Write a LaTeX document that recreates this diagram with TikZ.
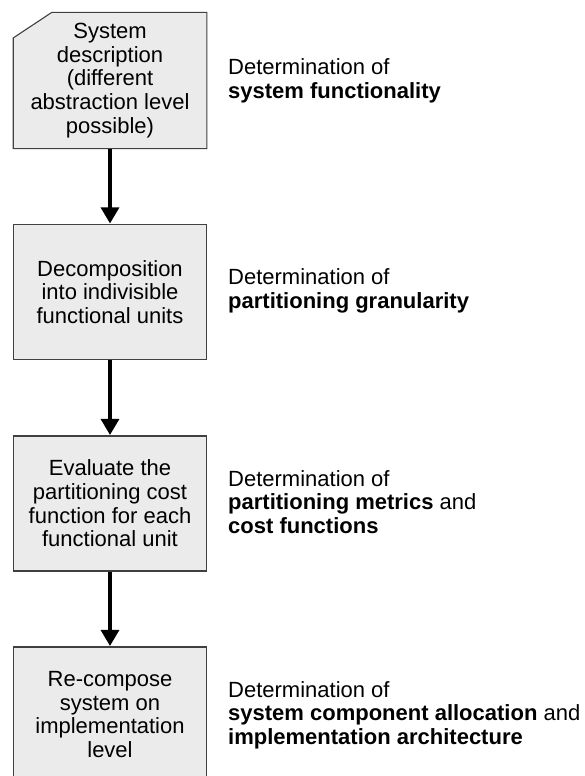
\documentclass[tikz,border=0pt]{standalone}
\usepackage{fontspec}
\setmainfont{Liberation Sans}
\usetikzlibrary{arrows.meta,calc,backgrounds}
\definecolor{boxfill}{HTML}{EBEBEB}
\definecolor{boxline}{HTML}{404040}
\tikzset{
  stepbox/.style={draw=boxline, fill=boxfill, line width=1.1pt,
    minimum width=192.5pt, minimum height=135pt, inner sep=0pt,
    align=center, font=\fontsize{22}{23.6}\selectfont},
  plainbox/.style={stepbox, draw=none, fill=none},
  sidelabel/.style={anchor=west, align=left, inner sep=0pt,
    font=\fontsize{22}{23.6}\selectfont},
  flowarrow/.style={line width=3.2pt, -{Triangle[width=18pt,length=16pt]}, shorten >=0.5pt}
}
\begin{document}
\begin{tikzpicture}[x=1pt,y=-1pt]
\useasboundingbox (0,0) rectangle (585,776);
\node[plainbox] (b1) at (110,80.5) {System\\description\\(different\\abstraction level\\possible)};
\begin{scope}[on background layer]
\draw[boxline, fill=boxfill, line width=1.1pt]
  ($(b1.north west)+(0,25.5)$) -- ($(b1.north west)+(38.5,0)$) -- (b1.north east)
  -- (b1.south east) -- (b1.south west) -- cycle;
\end{scope}
\node[stepbox] (b2) at (110,292) {Decomposition\\into indivisible\\functional units};
\node[stepbox] (b3) at (110,503.5) {Evaluate the\\partitioning cost\\function for each\\functional unit};
\node[stepbox] (b4) at (110,714.5) {Re-compose\\system on\\implementation\\level};
\draw[flowarrow] (b1.south) -- (b2.north);
\draw[flowarrow] (b2.south) -- (b3.north);
\draw[flowarrow] (b3.south) -- (b4.north);
\node[sidelabel] (l1) at (228,81) {Determination of\\\textbf{system functionality}};
\node[sidelabel] (l2) at (228,291) {Determination of\\\textbf{partitioning granularity}};
\node[sidelabel] (l3) at (228,502) {Determination of\\\textbf{partitioning metrics} and\\\textbf{cost functions}};
\node[sidelabel] (l4) at (228,715) {Determination of\\\textbf{system component allocation} and\\\textbf{implementation architecture}};
\end{tikzpicture}
\end{document}
